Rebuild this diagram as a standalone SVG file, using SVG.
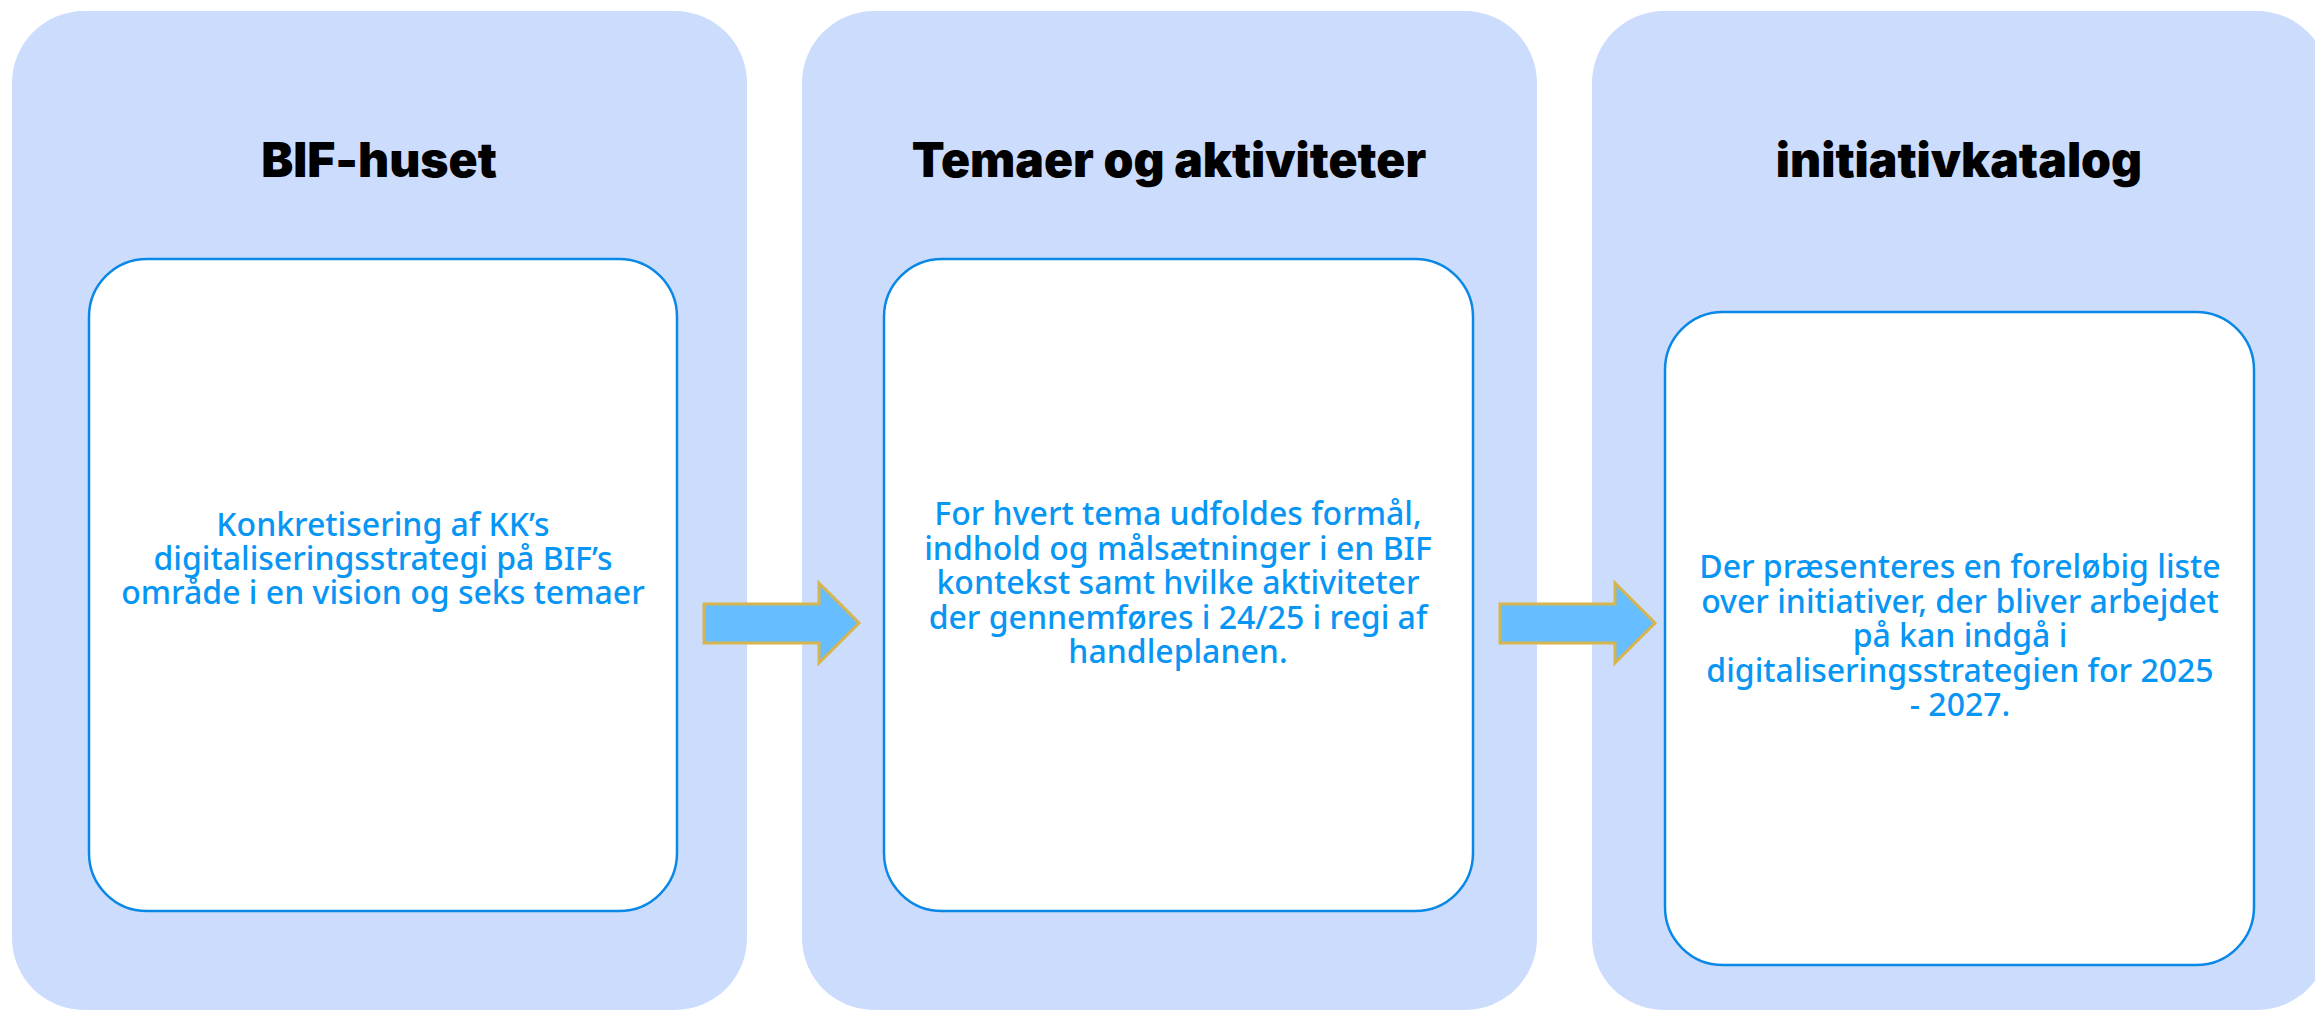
<svg xmlns="http://www.w3.org/2000/svg" width="2315" height="1011" viewBox="0 0 2315 1011">
<defs>
<style>
.panel{fill:#ccdcfd;}
.box{fill:#ffffff;stroke:#0a88e6;stroke-width:2.5;}
.title{font-family:Inter,"Liberation Sans",sans-serif;font-weight:900;font-size:48px;fill:#000000;text-anchor:middle;}
.body{font-family:"Noto Sans","Liberation Sans",sans-serif;font-weight:500;font-size:32px;fill:#0896f5;text-anchor:middle;}
.arrow{fill:#66bdff;stroke:#d6b44e;stroke-width:3;stroke-linejoin:miter;}
</style>
</defs>
<rect width="2315" height="1011" fill="#ffffff"/>
<g id="node-bif-huset">
<rect class="panel" x="12" y="11" width="735" height="999" rx="72" ry="72"/>
<text class="title" x="379" y="177">BIF-huset</text>
<rect class="box" x="89" y="259" width="588" height="652" rx="58" ry="58"/>
<text class="body" x="383" y="536"><tspan x="383">Konkretisering af KK’s</tspan><tspan x="383" dy="34">digitaliseringsstrategi på BIF’s</tspan><tspan x="383" dy="34">område i en vision og seks temaer</tspan></text>
</g>
<g id="node-temaer">
<rect class="panel" x="802" y="11" width="735" height="999" rx="72" ry="72"/>
<text class="title" x="1169" y="177">Temaer og aktiviteter</text>
<rect class="box" x="884" y="259" width="589" height="652" rx="58" ry="58"/>
<text class="body" x="1178" y="525"><tspan x="1178">For hvert tema udfoldes formål,</tspan><tspan x="1178" dy="34.5">indhold og målsætninger i en BIF</tspan><tspan x="1178" dy="34.5">kontekst samt hvilke aktiviteter</tspan><tspan x="1178" dy="34.5">der gennemføres i 24/25 i regi af</tspan><tspan x="1178" dy="34.5">handleplanen.</tspan></text>
</g>
<g id="node-initiativkatalog">
<rect class="panel" x="1592" y="11" width="737" height="999" rx="72" ry="72"/>
<text class="title" x="1959" y="177">initiativkatalog</text>
<rect class="box" x="1665" y="312" width="589" height="653" rx="58" ry="58"/>
<text class="body" x="1960" y="578"><tspan x="1960">Der præsenteres en foreløbig liste</tspan><tspan x="1960" dy="34.5">over initiativer, der bliver arbejdet</tspan><tspan x="1960" dy="34.5">på kan indgå i</tspan><tspan x="1960" dy="34.5">digitaliseringsstrategien for 2025</tspan><tspan x="1960" dy="34.5">- 2027.</tspan></text>
</g>
<g id="connectors">
<polygon class="arrow" points="704,604 819,604 819,583 859,623 819,663 819,643 704,643"/>
<polygon class="arrow" points="1500,604 1615,604 1615,583 1655,623 1615,663 1615,643 1500,643"/>
</g>
</svg>
